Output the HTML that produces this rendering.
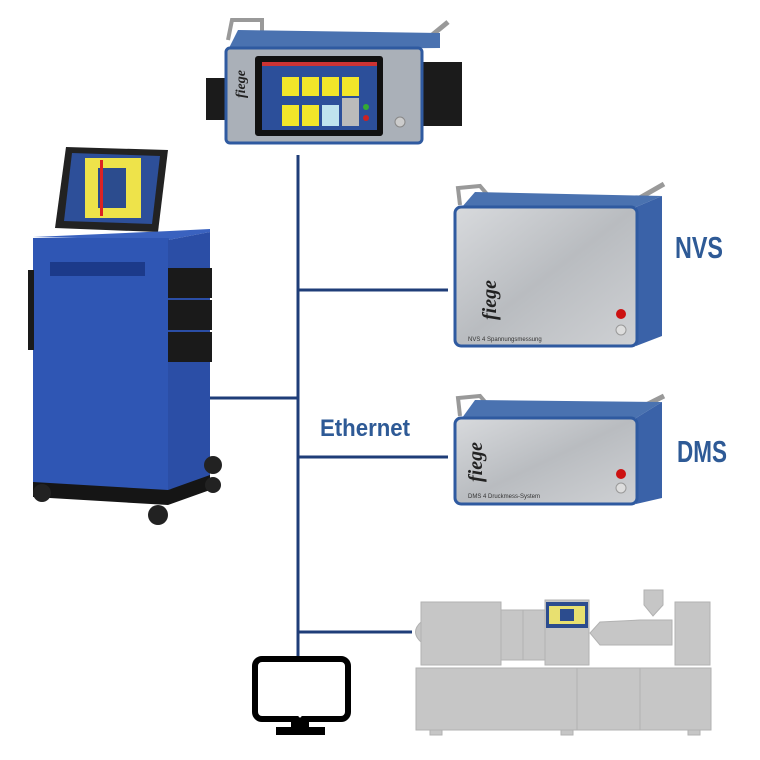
<!DOCTYPE html>
<html><head><style>
html,body{margin:0;padding:0;background:#fff;width:760px;height:760px;overflow:hidden}
svg{display:block}
.lbl{font-family:"Liberation Sans Narrow","Liberation Sans",sans-serif;font-weight:bold;fill:#2e5a96}
</style></head><body>
<svg width="760" height="760" viewBox="0 0 760 760" xmlns="http://www.w3.org/2000/svg">
<defs>
<linearGradient id="silver" x1="0" y1="0" x2="1" y2="1"><stop offset="0" stop-color="#d8dadd"/><stop offset="0.5" stop-color="#b9bcc0"/><stop offset="1" stop-color="#cfd1d4"/></linearGradient>
</defs>
<g stroke="#1f3d78" stroke-width="3" fill="none">
<line x1="298" y1="155" x2="298" y2="657"/>
<line x1="298" y1="290" x2="448" y2="290"/>
<line x1="298" y1="457" x2="448" y2="457"/>
<line x1="298" y1="632" x2="412" y2="632"/>
<line x1="208" y1="398" x2="298" y2="398"/>
</g>
<text x="320" y="436" class="lbl" font-size="24" textLength="90" lengthAdjust="spacingAndGlyphs">Ethernet</text>
<text x="675" y="258" class="lbl" font-size="31" textLength="48" lengthAdjust="spacingAndGlyphs">NVS</text>
<text x="677" y="462" class="lbl" font-size="31" textLength="50" lengthAdjust="spacingAndGlyphs">DMS</text>

<g>
<path d="M228 40 L232 20 L262 20 L262 38" stroke="#999" stroke-width="4" fill="none"/>
<path d="M420 45 L448 22" stroke="#999" stroke-width="5"/>
<polygon points="238,30 440,33 440,48 228,50" fill="#4a72b0"/>
<rect x="206" y="78" width="22" height="42" fill="#1b1b1b"/>
<rect x="422" y="62" width="40" height="64" fill="#1b1b1b"/>
<rect x="226" y="48" width="196" height="95" rx="4" fill="#aab0b8" stroke="#2f5aa0" stroke-width="3"/>
<rect x="255" y="56" width="128" height="80" rx="3" fill="#111"/>
<rect x="262" y="62" width="115" height="68" fill="#2c4f9a"/>
<rect x="262" y="62" width="115" height="4" fill="#c33"/>
<g fill="#f2e62a"><rect x="282" y="77" width="17" height="19"/><rect x="302" y="77" width="17" height="19"/><rect x="322" y="77" width="17" height="19"/><rect x="342" y="77" width="17" height="19"/><rect x="282" y="105" width="17" height="21"/><rect x="302" y="105" width="17" height="21"/></g>
<rect x="322" y="105" width="17" height="21" fill="#bfe3ee"/>
<rect x="342" y="98" width="17" height="28" fill="#bbb"/>
<circle cx="366" cy="107" r="3" fill="#3a3"/><circle cx="366" cy="118" r="3" fill="#c22"/>
<circle cx="400" cy="122" r="5" fill="#ccc" stroke="#888"/>
<text x="232" y="95" font-family="Liberation Serif,serif" font-style="italic" font-weight="bold" font-size="14" fill="#222" transform="rotate(-90 240 90)">fiege</text>
</g>

<g>
<polygon points="66,147 168,150 158,232 55,228" fill="#222"/>
<polygon points="72,153 160,156 152,224 64,221" fill="#2d4f99"/>
<rect x="85" y="158" width="56" height="60" fill="#eee34a"/>
<rect x="98" y="168" width="28" height="40" fill="#2c4c8e"/>
<rect x="100" y="160" width="3" height="56" fill="#d22"/>
<polygon points="33,237 170,231 210,229 210,232 168,240" fill="#3a62bf"/>
<rect x="33" y="238" width="136" height="252" fill="#2f56b4"/>
<polygon points="168,240 210,232 210,478 168,490" fill="#2b4ea6"/>
<rect x="50" y="262" width="95" height="14" fill="#1c3a8a"/>
<rect x="168" y="268" width="44" height="30" fill="#1a1a1a"/>
<rect x="168" y="300" width="44" height="30" fill="#1a1a1a"/>
<rect x="168" y="332" width="44" height="30" fill="#1a1a1a"/>
<rect x="28" y="270" width="6" height="80" fill="#1a1a1a"/>
<text x="40" y="330" font-family="Liberation Serif,serif" font-style="italic" font-weight="bold" font-size="34" fill="#142a5e" transform="rotate(-90 60 400)">fiege</text>
<polygon points="33,482 168,490 210,475 210,490 168,505 33,497" fill="#151515"/>
<g fill="#222"><circle cx="42" cy="493" r="9"/><circle cx="158" cy="515" r="10"/><circle cx="213" cy="465" r="9"/><circle cx="213" cy="485" r="8"/></g>
</g>

<g>
<path d="M460 205 L458 188 L480 186 L492 200" stroke="#999" stroke-width="4" fill="none"/>
<path d="M636 200 L664 184" stroke="#999" stroke-width="5"/>
<polygon points="462,207 475,192 662,196 636,207" fill="#4a72b0"/>
<polygon points="636,207 662,196 662,336 636,346" fill="#3a62a8"/>
<rect x="455" y="207" width="182" height="139" rx="6" fill="url(#silver)" stroke="#2f5aa0" stroke-width="3"/>
<text x="466" y="330" font-family="Liberation Serif,serif" font-style="italic" font-weight="bold" font-size="20" fill="#222" transform="rotate(-90 476 310)">fiege</text>
<text x="468" y="341" font-family="Liberation Sans,sans-serif" font-size="6" fill="#333">NVS 4  Spannungsmessung</text>
<circle cx="621" cy="314" r="5" fill="#c11"/><circle cx="621" cy="330" r="5" fill="#ddd" stroke="#999"/>
</g>

<g>
<path d="M460 416 L458 398 L480 396 L492 410" stroke="#999" stroke-width="4" fill="none"/>
<path d="M636 410 L664 396" stroke="#999" stroke-width="5"/>
<polygon points="462,418 475,400 662,402 636,418" fill="#4a72b0"/>
<polygon points="636,418 662,402 662,498 636,504" fill="#3a62a8"/>
<rect x="455" y="418" width="182" height="86" rx="6" fill="url(#silver)" stroke="#2f5aa0" stroke-width="3"/>
<text x="462" y="478" font-family="Liberation Serif,serif" font-style="italic" font-weight="bold" font-size="20" fill="#222" transform="rotate(-90 474 470)">fiege</text>
<text x="468" y="498" font-family="Liberation Sans,sans-serif" font-size="6" fill="#333">DMS 4  Druckmess-System</text>
<circle cx="621" cy="474" r="5" fill="#c11"/><circle cx="621" cy="488" r="5" fill="#ddd" stroke="#999"/>
</g>

<g fill="#c6c6c6" stroke="#b2b2b2" stroke-width="1">
<path d="M421 622 Q410 632 421 642 Z"/>
<rect x="421" y="602" width="80" height="63"/>
<rect x="501" y="610" width="22" height="50"/>
<rect x="523" y="610" width="22" height="50"/>
<rect x="545" y="600" width="44" height="65"/>
<polygon points="600,622 640,620 672,620 672,645 600,645 590,633"/>
<polygon points="644,590 663,590 663,605 653,616 644,605"/>
<rect x="675" y="602" width="35" height="63"/>
<rect x="416" y="668" width="295" height="62"/>
<line x1="577" y1="668" x2="577" y2="730"/><line x1="640" y1="668" x2="640" y2="730"/>
<rect x="430" y="730" width="12" height="5"/><rect x="561" y="730" width="12" height="5"/><rect x="688" y="730" width="12" height="5"/>
</g>
<rect x="546" y="602" width="42" height="26" fill="#2c4c8e"/>
<rect x="549" y="606" width="36" height="18" fill="#e8e070"/>
<rect x="560" y="609" width="14" height="12" fill="#2c4c8e"/>

<rect x="255" y="659" width="93" height="60" rx="7" fill="#fff" stroke="#000" stroke-width="6"/>
<circle cx="300" cy="716" r="1.5" fill="#fff"/>
<rect x="291" y="721" width="18" height="7" fill="#000"/>
<rect x="276" y="727" width="49" height="8" fill="#000"/>
</svg>
</body></html>
